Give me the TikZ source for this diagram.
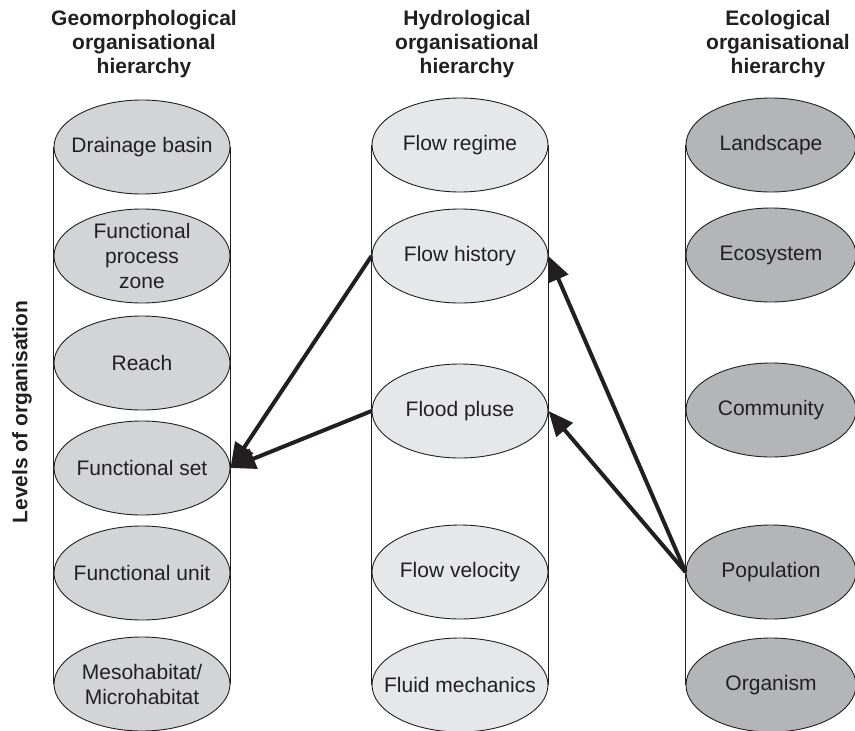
\documentclass[tikz,border=0pt]{standalone}
\usepackage{fontspec}
\setmainfont{Liberation Sans}
\usetikzlibrary{shapes.geometric,arrows.meta,backgrounds}

\definecolor{inktext}{HTML}{231F20}
\definecolor{geofill}{HTML}{D3D4D5}
\definecolor{hydfill}{HTML}{E6E7E8}
\definecolor{ecofill}{HTML}{B4B5B7}

\tikzset{
  level/.style={ellipse, draw=inktext, line width=0.9pt, inner sep=0pt,
    minimum width=176pt, minimum height=94pt},
  geo/.style={level, fill=geofill},
  hyd/.style={level, fill=hydfill},
  eco/.style={level, fill=ecofill, minimum width=170pt},
  lvltext/.style={font=\fontsize{21}{25}\selectfont, text=inktext, align=center, inner sep=0pt},
  title/.style={font=\bfseries\fontsize{21}{24}\selectfont, text=inktext, align=center,
    inner sep=0pt, anchor=north},
  wall/.style={draw=inktext, line width=0.9pt},
  link/.style={draw=inktext, line width=4pt, -{Triangle[length=25pt,width=21pt]}}
}

\begin{document}
\begin{tikzpicture}[x=1pt,y=-1pt]
\useasboundingbox (0,0) rectangle (855,731);

% column headings
\node[title] (tgeo) at (144,10) {Geomorphological\\organisational\\hierarchy};
\node[title] (thyd) at (467,10) {Hydrological\\organisational\\hierarchy};
\node[title] (teco) at (778,10) {Ecological\\organisational\\hierarchy};

% axis label
\node[font=\bfseries\fontsize{21}{24}\selectfont, text=inktext, rotate=90, inner sep=0pt]
  (axis) at (22,412) {Levels of organisation};

% geomorphological column
\node[geo, label={[lvltext]center:Drainage basin}] (g1) at (142,147) {};
\node[geo, label={[lvltext]center:Functional\\process\\zone}] (g2) at (142,256) {};
\node[geo, label={[lvltext]center:Reach}] (g3) at (142,363) {};
\node[geo, label={[lvltext]center:Functional set}] (g4) at (142,468) {};
\node[geo, label={[lvltext]center:Functional unit}] (g5) at (142,573) {};
\node[geo, label={[lvltext]center:Mesohabitat/\\Microhabitat}] (g6) at (142,684) {};

% hydrological column
\node[hyd, label={[lvltext]center:Flow regime}] (h1) at (460,145) {};
\node[hyd, label={[lvltext]center:Flow history}] (h2) at (460,256) {};
\node[hyd, label={[lvltext]center:Flood pluse}] (h3) at (460,411) {};
\node[hyd, label={[lvltext]center:Flow velocity}] (h4) at (460,572) {};
\node[hyd, label={[lvltext]center:Fluid mechanics}] (h5) at (460,685) {};

% ecological column
\node[eco, label={[lvltext]center:Landscape}] (e1) at (771,145) {};
\node[eco, label={[lvltext]center:Ecosystem}] (e2) at (771,255) {};
\node[eco, label={[lvltext]center:Community}] (e3) at (771,410) {};
\node[eco, label={[lvltext]center:Population}] (e4) at (771,572) {};
\node[eco, label={[lvltext]center:Organism}] (e5) at (771,685) {};

% cylinder walls behind the ellipses
\begin{scope}[on background layer]
  \draw[wall] (g1.west) -- (g6.west);
  \draw[wall] (g1.east) -- (g6.east);
  \draw[wall] (h1.west) -- (h5.west);
  \draw[wall] (h1.east) -- (h5.east);
  \draw[wall] (e1.west) -- (e5.west);
  \draw[wall] (e1.east) -- (e5.east);
\end{scope}

% links between hierarchies
\draw[link] (h2.west) -- (g4.east);
\draw[link] (h3.west) -- (g4.east);
\draw[link] (e4.west) -- (h2.east);
\draw[link] (e4.west) -- (h3.east);
\end{tikzpicture}
\end{document}
